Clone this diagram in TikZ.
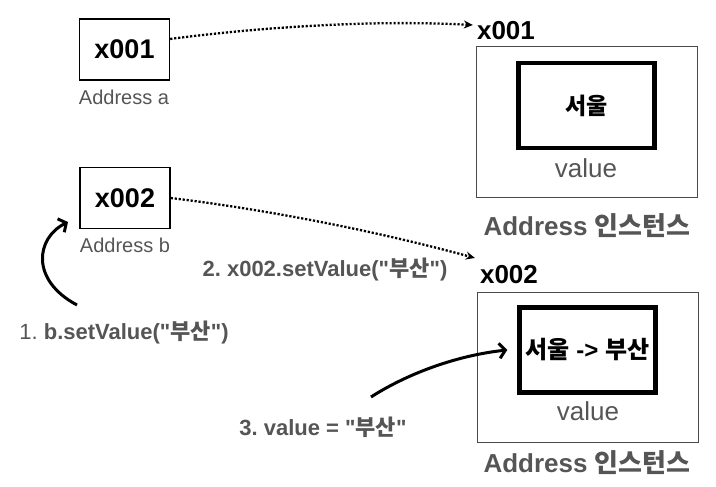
\documentclass[tikz,border=0pt]{standalone}
\usepackage{fontspec}
\setmainfont{Liberation Sans}[Ligatures=TeXOff]
\newfontfamily\kr{Noto Sans CJK KR}
\usetikzlibrary{arrows.meta}
\definecolor{txtgray}{HTML}{555555}
\definecolor{boxgray}{HTML}{4A4A4A}
\frenchspacing
\begin{document}
\begin{tikzpicture}[x=1pt,y=-1pt,
  addrbox/.style={draw=black, line width=1.4pt, minimum width=90pt, minimum height=61pt, inner sep=0pt,
    font=\fontsize{27}{30}\selectfont\bfseries},
  caplabel/.style={text=txtgray, inner sep=0pt, font=\fontsize{20}{24}\selectfont},
  idlabel/.style={inner sep=0pt, font=\fontsize{26}{30}\selectfont\bfseries},
  instbox/.style={draw=boxgray, line width=1pt, minimum width=221pt, minimum height=150pt, inner sep=0pt},
  valbox/.style={draw=black, line width=4.5pt, minimum width=136pt, minimum height=85pt, inner sep=0pt,
    font=\fontsize{23}{27}\selectfont},
  vallabel/.style={text=txtgray, inner sep=0pt, font=\fontsize{26}{30}\selectfont},
  instlabel/.style={text=txtgray, inner sep=0pt, font=\fontsize{26}{30}\selectfont\bfseries},
  steplabel/.style={text=txtgray, inner sep=0pt, font=\fontsize{22}{26}\selectfont\bfseries},
  refarrow/.style={line width=2.3pt, dash pattern=on 2.2pt off 1.8pt, -{Stealth[length=9pt,width=8pt]}},
  actarrow/.style={line width=3pt, -{Straight Barb[length=6pt,width=15pt]}}
]
\useasboundingbox (0,0) rectangle (716,487);

% reference boxes
\node[addrbox] (b1) at (124.5,49.5) {x001};
\node[caplabel] (la) at (124,97) {Address a};
\node[addrbox] (b2) at (125,198) {x002};
\node[caplabel] (lb) at (125,245) {Address b};

% instance 1
\node[idlabel] (id1) at (506,31) {x001};
\node[instbox] (o1) at (586.5,122) {};
\node[valbox, font=\fontsize{23}{27}\selectfont\bfseries] (v1) at (586.5,105.5) {\kr 서울};
\node[vallabel] (vl1) at (586,168) {value};
\node[instlabel] (il1) at (587,226) {Address {\kr 인스턴스}};

% instance 2
\node[idlabel] (id2) at (509,275) {x002};
\node[instbox] (o2) at (588,367.5) {};
\node[valbox, font=\fontsize{24}{28}\selectfont\bfseries] (v2) at (587.5,350) {{\kr 서울} -> {\kr 부산}};
\node[vallabel] (vl2) at (588,411) {value};
\node[instlabel] (il2) at (587,463) {Address {\kr 인스턴스}};

% step labels
\node[steplabel] (s2) at (325,270) {2. x002.setValue("{\kr 부산}")};
\node[steplabel] (s1) at (124,333) {{\mdseries 1.} b.setValue("{\kr 부산}")};
\node[steplabel] (s3) at (323,427) {3. value = "{\kr 부산}"};

% coordinates for free ends
\coordinate (t1) at (77,305);
\coordinate (h1) at (68,222);
\coordinate (t3) at (371,397);

% connectors
\draw[refarrow] (b1.13) .. controls (270,26) and (380,20) .. ([xshift=-4pt,yshift=6pt]id1.west);
\draw[refarrow] (b2.east) .. controls (270,210) and (380,232) .. ([xshift=-5pt,yshift=17pt]id2.west);
\draw[actarrow] (t1) .. controls (30,280) and (36,238) .. (h1);
\draw[actarrow] (t3) .. controls (410,372) and (460,355) .. ([xshift=-10pt]v2.west);
\end{tikzpicture}
\end{document}
